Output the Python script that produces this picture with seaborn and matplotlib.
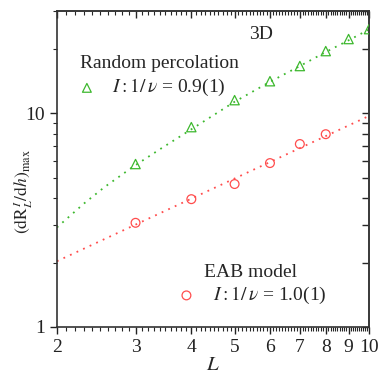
import matplotlib
matplotlib.use("Agg")
import matplotlib.pyplot as plt
import seaborn as sns
import pandas as pd
import numpy as np
from matplotlib.ticker import FixedLocator, NullFormatter, LogLocator

# Data
L_rp = [3, 4, 5, 6, 7, 8, 9, 10]
y_rp = [5.78, 8.6, 11.5, 14.1, 16.6, 19.5, 22.2, 24.7]
L_eab = [3, 4, 5, 6, 7, 8]
y_eab = [3.07, 3.96, 4.66, 5.84, 7.17, 7.97]

# fit curves
fit_rp_L = [2.0, 2.3, 2.56, 2.96, 3.41, 4.0, 5.0, 6.0, 7.0, 8.0, 9.0, 10.0]
fit_rp_y = [2.92, 3.78, 4.52, 5.61, 6.8, 8.4, 11.3, 14.0, 16.6, 19.3, 21.9, 24.6]
fit_eab_L = [2.0, 10.0]
fit_eab_y = [2.03, 9.7]

xticks = [2, 3, 4, 5, 6, 7, 8, 9, 10]
xticklabels = ["2", "3", "4", "5", "6", "7", "8", "9", "10"]
yticks = [1, 10]
yticklabels = ["1", "10"]

green = "#3db82e"
red = "#ff4d4d"

sns.set_theme(style="ticks")
plt.rcParams['font.family'] = ['Liberation Serif', 'DejaVu Serif']
plt.rcParams['mathtext.fontset'] = 'stix'

fig = plt.figure(figsize=(3.82, 3.82), dpi=100)
ax = fig.add_axes([0.149, 0.144, 0.817, 0.827])

df_rp = pd.DataFrame({"L": L_rp, "y": y_rp})
df_eab = pd.DataFrame({"L": L_eab, "y": y_eab})
df_frp = pd.DataFrame({"L": fit_rp_L, "y": fit_rp_y})
df_feab = pd.DataFrame({"L": fit_eab_L, "y": fit_eab_y})

sns.lineplot(data=df_frp, x="L", y="y", ax=ax, color=green, linestyle=(0, (1, 3)), linewidth=1.3, sort=False)
sns.lineplot(data=df_feab, x="L", y="y", ax=ax, color=red, linestyle=(0, (1, 3)), linewidth=1.3, sort=False)
sns.scatterplot(data=df_rp, x="L", y="y", ax=ax, marker="^", s=45, facecolor="none", edgecolor=green, linewidth=0.9, zorder=5)
sns.scatterplot(data=df_eab, x="L", y="y", ax=ax, marker="o", s=40, facecolor="none", edgecolor=red, linewidth=0.9, zorder=5)

ax.set_xscale("log")
ax.set_yscale("log")
ax.set_xlim(2, 10)
ax.set_ylim(1, 30)

minor_x = list(np.arange(2.1, 10.0, 0.1))
ax.xaxis.set_major_locator(FixedLocator(xticks))
ax.set_xticklabels(xticklabels)
ax.xaxis.set_minor_locator(FixedLocator(minor_x))
ax.xaxis.set_minor_formatter(NullFormatter())
ax.yaxis.set_major_locator(FixedLocator(yticks))
ax.set_yticklabels(yticklabels)
ax.yaxis.set_minor_locator(LogLocator(base=10, subs=np.arange(2, 10)))
ax.yaxis.set_minor_formatter(NullFormatter())

ax.tick_params(which="major", direction="out", length=5, width=1, labelsize=14, colors="#222222", top=False, right=False)
ax.tick_params(which="minor", direction="out", length=3, width=0.8, top=False, right=False)
sec_x = ax.secondary_xaxis("top")
sec_x.set_xticks(xticks)
sec_x.xaxis.set_minor_locator(FixedLocator(minor_x))
sec_x.tick_params(which="major", direction="in", length=5, width=1, labeltop=False)
sec_x.tick_params(which="minor", direction="in", length=3, width=0.8)
sec_x.xaxis.set_minor_formatter(NullFormatter())
sec_y = ax.secondary_yaxis("right")
sec_y.set_yticks(yticks)
sec_y.yaxis.set_minor_locator(LogLocator(base=10, subs=np.arange(2, 10)))
sec_y.tick_params(which="major", direction="in", length=5, width=1, labelright=False)
sec_y.tick_params(which="minor", direction="in", length=5, width=1)
sec_y.yaxis.set_minor_formatter(NullFormatter())

for sp in ax.spines.values():
    sp.set_linewidth(1.2)
    sp.set_color("#333333")
for s in [sec_x, sec_y]:
    for sp in s.spines.values():
        sp.set_linewidth(1.2)
        sp.set_color("#555555")

ax.set_xlabel("$L$", fontsize=15, labelpad=0)
ax.set_ylabel(r"$(\mathrm{dR}_L^{\,I}/\mathrm{d}h)_{\mathrm{max}}$", fontsize=12.5)
ax.yaxis.set_label_coords(-0.07, 0.43)

ax.text(0.655, 0.925, "3D", transform=ax.transAxes, fontsize=14, ha="center", va="center")
ax.text(0.075, 0.835, "Random percolation", transform=ax.transAxes, fontsize=14, ha="left", va="center")
ax.scatter([0.096], [0.757], transform=ax.transAxes, marker="^", s=40, facecolor="none", edgecolor=green, linewidth=0.9)
ax.text(0.178, 0.757, r"$I : 1/\,\nu$ = 0.9(1)", transform=ax.transAxes, fontsize=14, ha="left", va="center")
ax.text(0.47, 0.172, "EAB model", transform=ax.transAxes, fontsize=14, ha="left", va="center")
ax.scatter([0.415], [0.10], transform=ax.transAxes, marker="o", s=40, facecolor="none", edgecolor=red, linewidth=0.9)
ax.text(0.5, 0.10, r"$I : 1/\,\nu$ = 1.0(1)", transform=ax.transAxes, fontsize=14, ha="left", va="center")

fig.savefig("out.png", dpi=100)
